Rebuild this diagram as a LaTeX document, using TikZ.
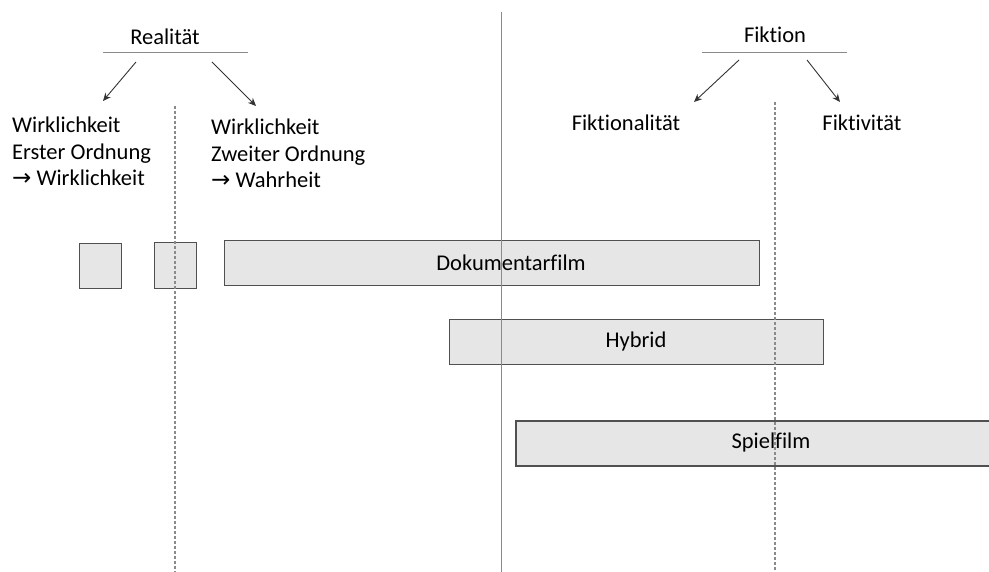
\documentclass[tikz,border=0pt]{standalone}
\usepackage{fontspec}
\setmainfont{Carlito}[Ligatures=NoCommon]
\newfontfamily\arrowfont{DejaVu Sans}
\usetikzlibrary{arrows.meta}
\definecolor{boxfill}{HTML}{E6E6E6}
\definecolor{boxdraw}{HTML}{505050}
\definecolor{linegray}{HTML}{8A8A8A}
\newcommand{\rarr}{{\arrowfont\fontsize{23}{26}\selectfont →}}
\begin{document}
\begin{tikzpicture}[x=1pt,y=-1pt,
  txt/.style={inner sep=0pt,font=\fontsize{22.5}{26.5}\selectfont,text=black},
  bar/.style={draw=boxdraw,fill=boxfill,line width=1.4pt},
  arr/.style={draw=black!80,line width=0.9pt,-{Stealth[length=8pt,width=7pt]}},
  rule/.style={draw=linegray,line width=0.8pt},
  dashline/.style={draw=linegray,line width=1.1pt,dash pattern=on 3pt off 2pt}]
\useasboundingbox (0,0) rectangle (989,572);
% boxes
\node[bar,minimum width=42pt,minimum height=45pt,anchor=north west] (b1) at (79,243) {};
\node[bar,minimum width=42pt,minimum height=46pt,anchor=north west] (b2) at (154,242) {};
\node[bar,minimum width=535pt,minimum height=45pt,anchor=north west] (doc) at (224,240) {};
\node[bar,minimum width=374pt,minimum height=45pt,anchor=north west] (hyb) at (449,319) {};
\draw[bar] (995,421) -- (516,421) -- (516,466) -- (995,466);
\node[txt] (doct) at (511,263) {Dokumentarfilm};
\node[txt] (hybt) at (636,342) {Hybrid};
\node[txt] (spt) at (771,443) {Spielfilm};
% headings
\node[txt] (real) at (165,37) {Realität};
\coordinate (rl) at (103,52); \coordinate (rr) at (248,52);
\draw[rule] (rl) -- (rr);
\node[txt] (fik) at (775,35) {Fiktion};
\coordinate (fl) at (702,52); \coordinate (fr) at (847,52);
\draw[rule] (fl) -- (fr);
% arrows
\coordinate (a1s) at (136,62); \coordinate (a1e) at (103,101);
\coordinate (a2s) at (212,62); \coordinate (a2e) at (256,106);
\coordinate (a3s) at (739,60); \coordinate (a3e) at (694,102);
\coordinate (a4s) at (807,60); \coordinate (a4e) at (840,102);
\draw[arr] (a1s) -- (a1e);
\draw[arr] (a2s) -- (a2e);
\draw[arr] (a3s) -- (a3e);
\draw[arr] (a4s) -- (a4e);
% labels
\node[txt,anchor=north west,align=left] (w1) at (12,117) {Wirklichkeit\\Erster Ordnung\\\rarr\ Wirklichkeit};
\node[txt,anchor=north west,align=left] (w2) at (211,119) {Wirklichkeit\\Zweiter Ordnung\\\rarr\ Wahrheit};
\node[txt] (fal) at (626,123) {Fiktionalität};
\node[txt] (fiv) at (862,123) {Fiktivität};
% vertical lines
\coordinate (v1t) at (175,106); \coordinate (v1b) at (175,572);
\coordinate (v2t) at (501,12); \coordinate (v2b) at (501,572);
\coordinate (v3t) at (775,102); \coordinate (v3b) at (775,572);
\draw[dashline] (v1t) -- (v1b);
\draw[rule] (v2t) -- (v2b);
\draw[dashline] (v3t) -- (v3b);
\end{tikzpicture}
\end{document}
